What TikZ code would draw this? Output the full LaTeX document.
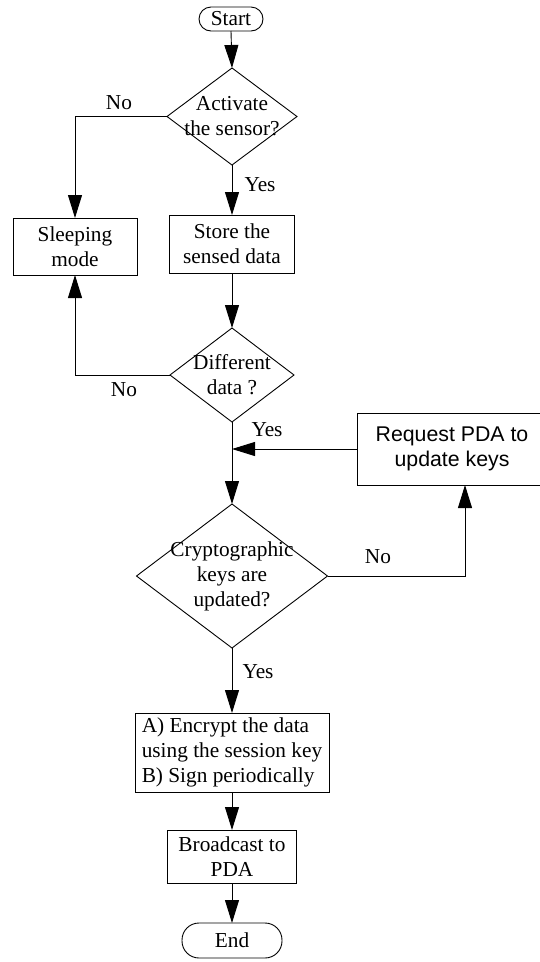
\documentclass[tikz,border=0pt]{standalone}
\usepackage{fontspec}
\setmainfont{Liberation Serif}
\newfontfamily\arialfont{Liberation Sans}
\usetikzlibrary{arrows.meta,positioning}
\tikzset{
  every node/.style={inner sep=0pt, outer sep=0pt, font=\fontsize{21.3}{25}\selectfont},
  flow/.style={line width=0.9pt, draw=black},
  arr/.style={flow, -{Triangle[length=23pt,width=14pt]}},
  procbox/.style={draw, line width=0.9pt, align=center, rectangle},
  termbox/.style={draw, line width=0.9pt, align=center, rectangle, rounded corners=#1},
  decision/.style={align=center, rectangle},
  lbl/.style={}
}
\begin{document}
\begin{tikzpicture}[x=1pt,y=-1pt]
\useasboundingbox (0,0) rectangle (539,962);
\fill[white] (0,0) rectangle (539,962);
% nodes
\node[termbox=12pt, minimum width=64pt, minimum height=24pt] (start) at (231,19) {Start};
\node[decision, minimum width=130pt, minimum height=97pt] (d1) at (232,116.5) {Activate\\the sensor?};
\node[procbox, minimum width=124pt, minimum height=57pt] (sleep) at (75,246.5) {Sleeping\\mode};
\node[procbox, minimum width=125pt, minimum height=58pt] (store) at (232,244) {Store the\\sensed data};
\node[decision, minimum width=124pt, minimum height=94pt] (d2) at (232,375) {Different\\data ?};
\node[decision, minimum width=191pt, minimum height=144pt] (d3) at (232,576) {Cryptographic\\keys are\\updated?};
\node[procbox, minimum width=190pt, minimum height=72pt, font=\arialfont\fontsize{21.3}{25}\selectfont] (req) at (452,449) {Request PDA to\\update keys};
\node[procbox, align=left, minimum width=194pt, minimum height=79pt] (enc) at (232,752.5) {A) Encrypt the data\\using the session key\\B) Sign periodically};
\node[procbox, minimum width=129pt, minimum height=53pt] (bc) at (232,856.5) {Broadcast to\\PDA};
\node[termbox=17pt, minimum width=100pt, minimum height=35pt] (end) at (232,940.5) {End};
% diamonds
\foreach \d in {d1,d2,d3}{
  \draw[flow] (\d.north) -- (\d.east) -- (\d.south) -- (\d.west) -- cycle;
}
\coordinate (j) at (232,449);
\coordinate (r) at (465,485);
% connectors
\draw[arr] (start.south) -- (d1.north);
\draw[arr] (d1.west) -| (sleep.north);
\draw[arr] (d1.south) -- (store.north);
\draw[arr] (store.south) -- (d2.north);
\draw[arr] (d2.west) -| (sleep.south);
\draw[arr] (d2.south) -- (d3.north);
\draw[arr] (req.west) -- (j);
\draw[arr] (d3.east) -| (r);
\draw[arr] (d3.south) -- (enc.north);
\draw[arr] (enc.south) -- (bc.north);
\draw[arr] (bc.south) -- (end.north);
% labels
\node[lbl] (l1) at (119,103) {No};
\node[lbl] (l2) at (260,185) {Yes};
\node[lbl] (l3) at (124,390) {No};
\node[lbl] (l4) at (267,430) {Yes};
\node[lbl] (l5) at (378,557) {No};
\node[lbl] (l6) at (258,672) {Yes};
\end{tikzpicture}
\end{document}
